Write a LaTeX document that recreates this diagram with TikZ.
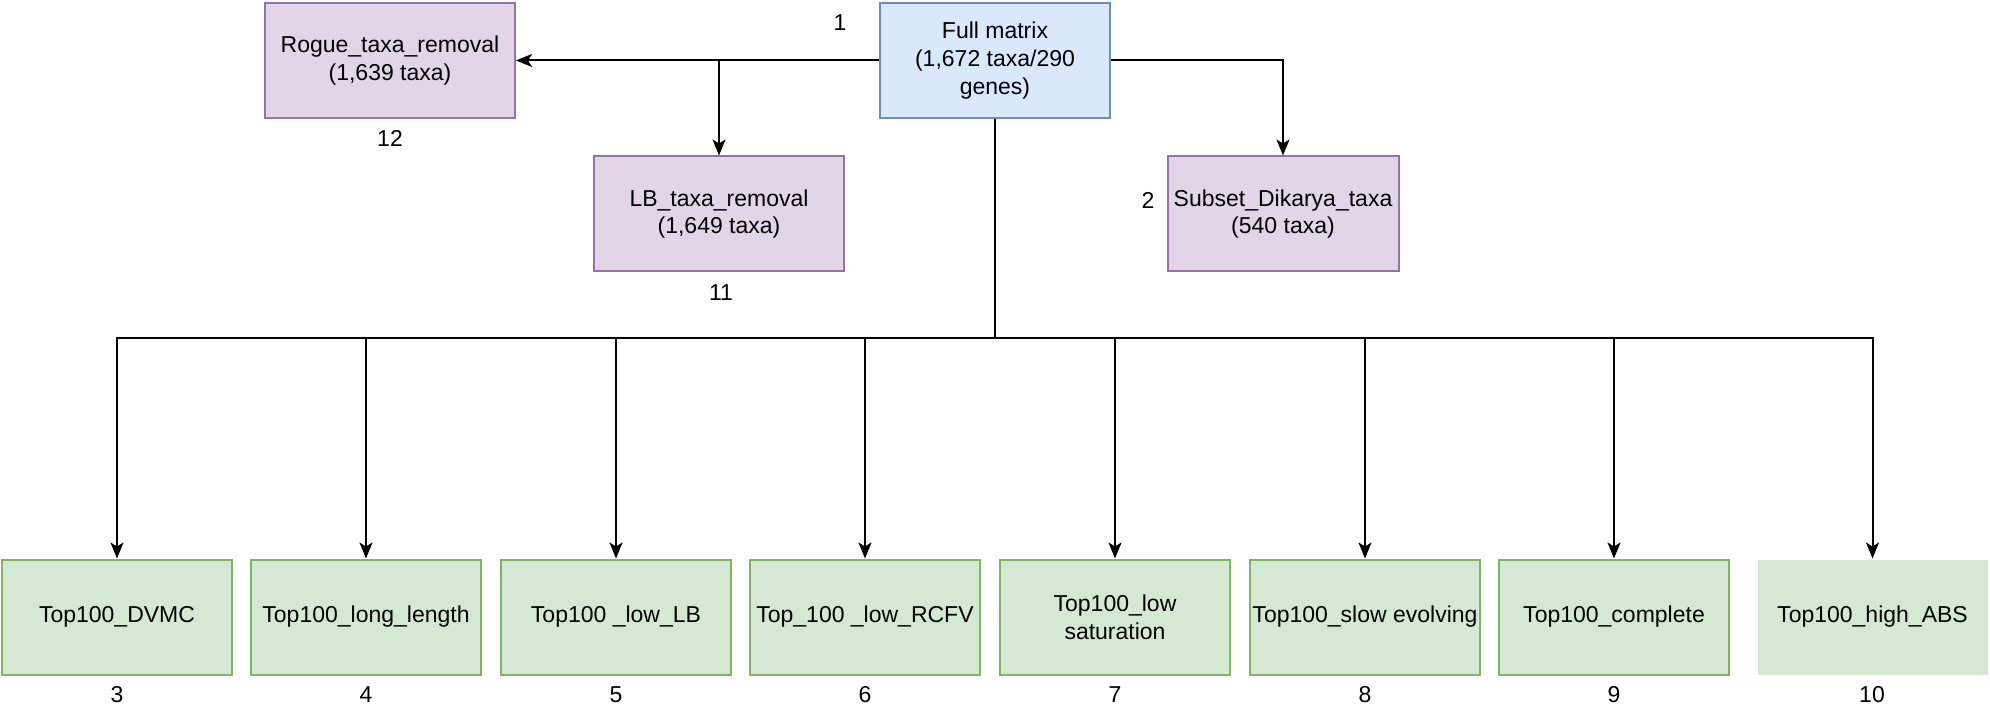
\documentclass[tikz,border=0pt]{standalone}
\usepackage{fontspec}
\setmainfont{Liberation Sans}
\usetikzlibrary{arrows.meta}
\definecolor{pfill}{HTML}{E1D5E7}\definecolor{pdraw}{HTML}{9673A6}
\definecolor{bfill}{HTML}{DAE8FC}\definecolor{bdraw}{HTML}{6C8EBF}
\definecolor{gfill}{HTML}{D5E8D4}\definecolor{gdraw}{HTML}{82B366}
\tikzset{
  box/.style={inner sep=0pt, line width=2pt, align=center, minimum height=115pt,
    font=\fontsize{23}{27.6}\selectfont},
  pbox/.style={box, fill=pfill, draw=pdraw},
  bbox/.style={box, fill=bfill, draw=bdraw},
  gbox/.style={box, fill=gfill, draw=gdraw, minimum width=230pt},
  num/.style={inner sep=0pt, font=\fontsize{23}{27.6}\selectfont},
  arr/.style={line width=2pt, -{Stealth[length=16pt,width=13pt,inset=4pt]}},
  ln/.style={line width=2pt}
}
\begin{document}
\begin{tikzpicture}[x=1pt,y=-1pt]
\useasboundingbox (0,0) rectangle (1990,708);
\node[pbox, minimum width=250pt] (rogue) at (390,60.5) {Rogue\_taxa\_removal\\(1,639 taxa)};
\node[bbox, minimum width=230pt] (full) at (995,60.5) {Full matrix\\(1,672 taxa/290\\genes)};
\node[pbox, minimum width=250pt] (lb) at (719,214) {LB\_taxa\_removal\\(1,649 taxa)};
\node[pbox, minimum width=231pt] (sub) at (1283,214) {Subset\_Dikarya\_taxa\\(540 taxa)};
\node[num] (n1) at (840,23) {1};
\node[num] (n12) at (390,138) {12};
\node[num] (n11) at (721,293) {11};
\node[num] (n2) at (1148,200) {2};
\node[gbox] (b3) at (117,617) {Top100\_DVMC};
\node[gbox] (b4) at (366,617) {Top100\_long\_length};
\node[gbox] (b5) at (616,617) {Top100 \_low\_LB};
\node[gbox] (b6) at (865,617) {Top\_100 \_low\_RCFV};
\node[gbox] (b7) at (1115,617) {Top100\_low\\saturation};
\node[gbox] (b8) at (1365,617) {Top100\_slow evolving};
\node[gbox] (b9) at (1614,617) {Top100\_complete};
\node[gbox, draw=none] (b10) at (1872.5,617) {Top100\_high\_ABS};
\foreach \n/\x in {3/117,4/366,5/616,6/865,7/1115,8/1365,9/1614,10/1872}
  \node[num] (l\n) at (\x,695) {\n};
\draw[arr] (full.west) -- (rogue.east);
\draw[arr] (full.west -| lb.north) -- (lb.north);
\draw[arr] (full.east) -| (sub.north);
\coordinate (bus) at (995,338);
\draw[ln] (full.south) -- (bus);
\foreach \b in {b3,b4,b5,b6,b7,b8,b9,b10}
  \draw[arr] (bus) -| (\b.north);
\end{tikzpicture}
\end{document}
